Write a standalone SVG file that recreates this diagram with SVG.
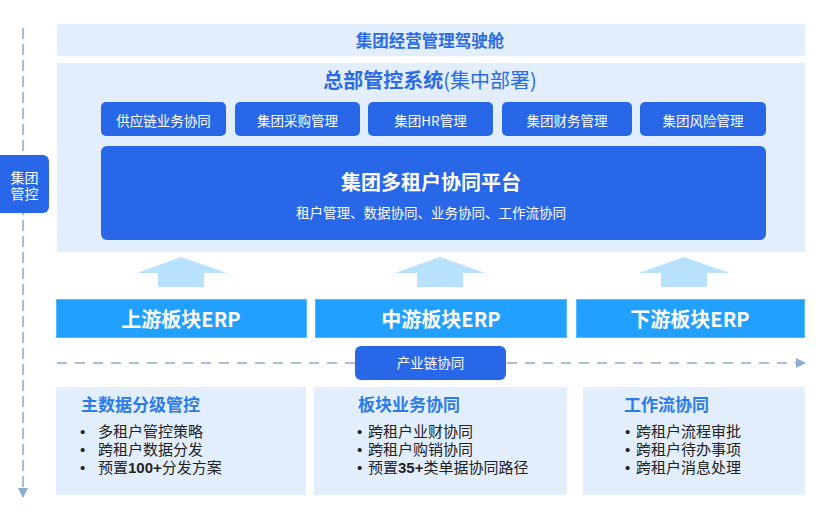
<svg xmlns="http://www.w3.org/2000/svg" width="831" height="517" viewBox="0 0 831 517">
<style>
text{font-family:"Noto Sans CJK SC","Noto Sans",sans-serif}
.panel{fill:#E3EEFD}
.blue{fill:#2767E8}
.erp{fill:#21A0FF;stroke:#56B8FF;stroke-width:1}
.w13{fill:#fff;font-size:13.5px}
.ttl{fill:#2C6BE5;font-weight:700}
.erpt{fill:#fff;font-size:20px;font-weight:700}
.pt{fill:#2C7BE8;font-size:17px;font-weight:700}
text.bl{fill:#222;font-size:15px;font-family:"Liberation Sans","Noto Sans CJK SC",sans-serif}
text.gc{fill:#fff;font-size:14px;font-family:"Liberation Sans","Noto Sans CJK SC",sans-serif}
.up{fill:#B8E1FD}
.dash{stroke:#8EABD6;stroke-width:1.6;fill:none}
</style>
<defs>
<marker id="ah" viewBox="0 0 10 10" refX="9" refY="5" markerWidth="10" markerHeight="10" markerUnits="userSpaceOnUse" orient="auto">
<path d="M0,0 L10,5 L0,10 z" fill="#8EABD6"/>
</marker>
</defs>
<g id="connectors">
<line class="dash" x1="23" y1="28" x2="23" y2="497" stroke-dasharray="11 5" marker-end="url(#ah)"/>
<line class="dash" x1="57" y1="363" x2="805" y2="363" stroke-dasharray="10 8" marker-end="url(#ah)"/>
<path class="up" d="M181,257 L227,273 L204,273 L204,287 L158,287 L158,273 L137,273 Z"/>
<path class="up" d="M440,257 L485,273 L463,273 L463,287 L417,287 L417,273 L395,273 Z"/>
<path class="up" d="M684,257 L729,273 L707,273 L707,287 L661,287 L661,273 L639,273 Z"/>
</g>
<g id="cockpit">
<rect class="panel" x="57" y="24" width="748" height="32"/>
<text class="ttl" x="430" y="47" font-size="16.5" text-anchor="middle">集团经营管理驾驶舱</text>
</g>
<g id="hq">
<rect class="panel" x="57" y="63" width="748" height="189"/>
<text x="430" y="88" font-size="20" text-anchor="middle" fill="#2C6BE5"><tspan font-weight="700">总部管控系统</tspan>(集中部署)</text>
</g>
<g id="m1"><rect class="blue" x="101" y="102" width="125" height="34" rx="5"/><text class="w13" x="163.5" y="126" text-anchor="middle">供应链业务协同</text></g>
<g id="m2"><rect class="blue" x="235" y="102" width="125" height="34" rx="5"/><text class="w13" x="297.5" y="126" text-anchor="middle">集团采购管理</text></g>
<g id="m3"><rect class="blue" x="368" y="102" width="125" height="34" rx="5"/><text class="w13" x="430.5" y="126" text-anchor="middle">集团HR管理</text></g>
<g id="m4"><rect class="blue" x="502" y="102" width="130" height="34" rx="5"/><text class="w13" x="567" y="126" text-anchor="middle">集团财务管理</text></g>
<g id="m5"><rect class="blue" x="640" y="102" width="126" height="34" rx="5"/><text class="w13" x="703" y="126" text-anchor="middle">集团风险管理</text></g>
<g id="platform">
<rect class="blue" x="101" y="146" width="665" height="94" rx="6"/>
<text x="431" y="190" fill="#fff" font-size="20" font-weight="700" text-anchor="middle">集团多租户协同平台</text>
<text class="w13" x="431" y="218" text-anchor="middle">租户管理、数据协同、业务协同、工作流协同</text>
</g>
<g id="group-control">
<rect class="blue" x="-8" y="155" width="57" height="58" rx="6"/>
<text class="gc" x="24.5" y="183" text-anchor="middle">集团</text>
<text class="gc" x="24.5" y="199" text-anchor="middle">管控</text>
</g>
<g id="erp1"><rect class="erp" x="56.5" y="299.5" width="250" height="38"/><text class="erpt" x="181" y="327" text-anchor="middle">上游板块ERP</text></g>
<g id="erp2"><rect class="erp" x="315.5" y="299.5" width="251" height="38"/><text class="erpt" x="441" y="327" text-anchor="middle">中游板块ERP</text></g>
<g id="erp3"><rect class="erp" x="576.5" y="299.5" width="228" height="38"/><text class="erpt" x="690" y="327" text-anchor="middle">下游板块ERP</text></g>
<g id="chain">
<rect class="blue" x="355" y="346" width="151" height="34" rx="6"/>
<text class="w13" x="430.5" y="368" text-anchor="middle">产业链协同</text>
</g>
<g id="p1">
<rect class="panel" x="56" y="387" width="250" height="108"/>
<text class="pt" x="81" y="411">主数据分级管控</text>
<text class="bl" x="80" y="437">•<tspan x="98">多租户管控策略</tspan></text>
<text class="bl" x="80" y="455">•<tspan x="98">跨租户数据分发</tspan></text>
<text class="bl" x="80" y="473">•<tspan x="98">预置</tspan><tspan font-weight="700">100+</tspan>分发方案</text>
</g>
<g id="p2">
<rect class="panel" x="314" y="387" width="253" height="108"/>
<text class="pt" x="358" y="411">板块业务协同</text>
<text class="bl" x="357" y="437">•<tspan x="368">跨租户业财协同</tspan></text>
<text class="bl" x="357" y="455">•<tspan x="368">跨租户购销协同</tspan></text>
<text class="bl" x="357" y="473">•<tspan x="368">预置</tspan><tspan font-weight="700">35+</tspan>类单据协同路径</text>
</g>
<g id="p3">
<rect class="panel" x="583" y="387" width="222" height="108"/>
<text class="pt" x="624" y="411">工作流协同</text>
<text class="bl" x="625" y="437">•<tspan x="636">跨租户流程审批</tspan></text>
<text class="bl" x="625" y="455">•<tspan x="636">跨租户待办事项</tspan></text>
<text class="bl" x="625" y="473">•<tspan x="636">跨租户消息处理</tspan></text>
</g>
</svg>
